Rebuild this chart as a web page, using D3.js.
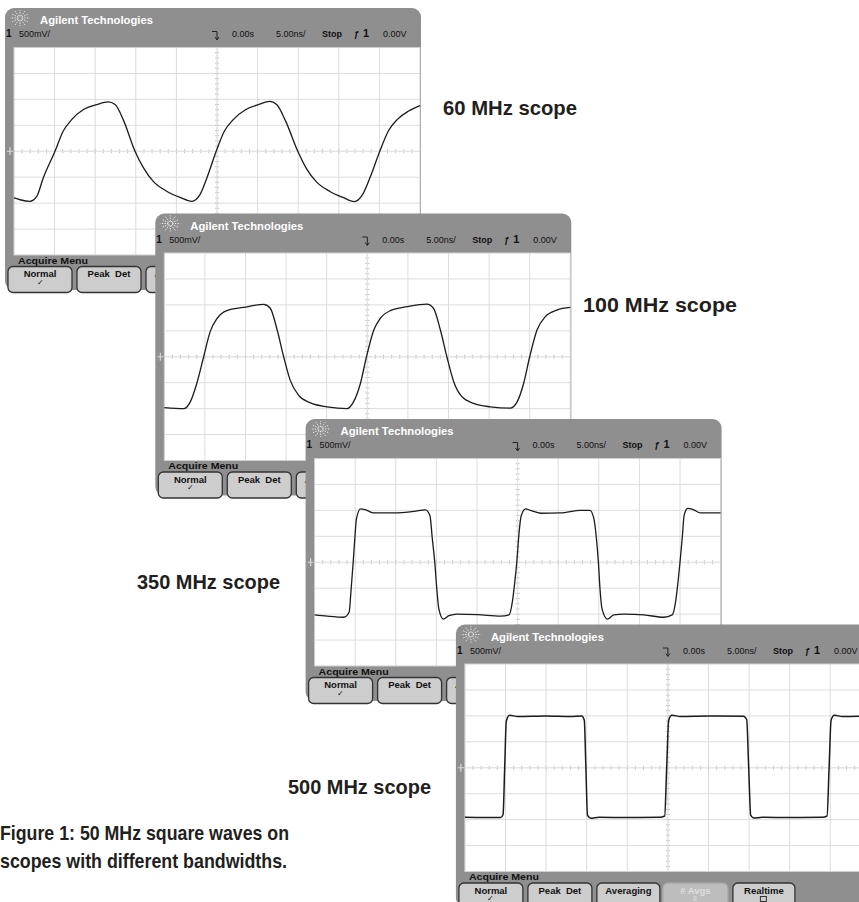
<!DOCTYPE html>
<html>
<head>
<meta charset="utf-8">
<script src="https://cdn.jsdelivr.net/npm/d3@7"></script>
<style>
body{margin:0;background:#fff;}
text{font-family:"Liberation Sans",Arial,sans-serif;}
</style>
</head>
<body>
<div id="chart"></div>
<script>
// scope names, one panel each, back to front
var scopeNames=["60 MHz scope","100 MHz scope","350 MHz scope","500 MHz scope"];
var captionLines=["Figure 1: 50 MHz square waves on","scopes with different bandwidths."];

// status line of every screen
var chanText="500mV/", delayText="0.00s", timeText="5.00ns/", runText="Stop", trigText="0.00V";
var buttonNames=["Normal","Peak  Det","Averaging","# Avgs","Realtime"];

// traces, time in ns (0 = trigger), level in V  (5 ns/div, 500 mV/div)
var t60=[-25,-24.25,-23.05,-22.2,-21.4,-19.95,-18.95,-17.9,-16.45,-14.8,-13.4,-12.55,-11.55,-10.1,-9.05,-7.85,-6.2,-4.55,-3.1,-2.1,-1.25,-0.1,0.9,2,3.5,5.1,6.5,7.35,8.4,9.95,11,12.25,13.9,15.5,16.9,17.9,18.8,20.05,21.1,22.25,23.6,25];
var v60=[-0.9,-0.935,-0.965,-0.87,-0.515,0,0.385,0.61,0.805,0.9,0.95,0.9,0.61,0,-0.32,-0.58,-0.77,-0.89,-0.965,-0.835,-0.515,0,0.385,0.61,0.8,0.9,0.96,0.9,0.6,0,-0.33,-0.59,-0.775,-0.89,-0.97,-0.84,-0.525,0,0.39,0.62,0.775,0.88];

var t100=[-25,-22.6,-21.8,-21,-20.15,-19.35,-18.5,-17.3,-15.25,-12.75,-11.95,-11.1,-10.3,-9.5,-8.45,-7,-4.95,-2.5,-1.7,-0.85,-0.1,0.8,1.6,2.85,4.9,7.35,8.15,9,9.8,10.65,11.65,13.1,15.15,17.6,18.45,19.25,20,20.9,21.9,23.35,25];
var v100=[-0.98,-1.0,-0.87,-0.515,0,0.485,0.74,0.89,0.95,1.01,0.935,0.515,0,-0.45,-0.745,-0.89,-0.965,-1.0,-0.87,-0.515,0,0.515,0.74,0.89,0.965,1.015,0.935,0.515,0,-0.485,-0.77,-0.9,-0.965,-0.99,-0.87,-0.515,0,0.515,0.77,0.9,0.95];

var t350=[-25,-23.45,-21.4,-20.75,-20.5,-20.25,-20.05,-19.85,-19.35,-18.7,-17.7,-15.25,-12.75,-11.35,-10.8,-10.5,-10.2,-9.95,-9.7,-9.15,-8.45,-7.45,-4.95,-2.1,-1.05,-0.65,-0.35,-0.1,0.15,0.45,1.0,1.6,2.85,5.3,7.75,8.9,9.4,9.75,9.95,10.15,10.4,11.05,11.85,13.1,15.55,18,19.05,19.45,19.75,20,20.3,20.5,20.95,21.7,22.5,25];
var v350=[-1.015,-1.04,-1.06,-0.965,-0.515,0,0.45,0.835,1.03,1.01,0.95,0.95,0.98,1.01,0.9,0.45,0,-0.515,-0.9,-1.095,-1.03,-1.0,-1.01,-1.04,-1.015,-0.77,-0.385,0,0.515,0.9,1.03,1.0,0.945,0.95,1.0,1.0,0.835,0.385,0,-0.515,-0.9,-1.095,-1.015,-1.0,-1.015,-1.06,-1.015,-0.77,-0.385,0,0.515,0.9,1.04,1.01,0.95,0.95];

var t500=[-25,-20.6,-20.3,-20.1,-19.9,-19.5,-18.5,-15,-12,-10.6,-10.3,-10.1,-9.9,-9.5,-8.5,-5,-1,-0.4,-0.15,0.1,0.5,1.5,5,9.3,9.7,9.95,10.2,10.6,11.6,15,19,19.6,19.85,20.1,20.5,21.5,25];
var v500=[-0.955,-0.96,-0.9,0,0.9,1.01,0.99,1.0,0.99,1.0,0.92,0,-0.92,-0.975,-0.955,-0.96,-0.955,-0.93,0,0.92,1.01,0.99,1.0,0.995,0.93,0,-0.92,-0.97,-0.955,-0.96,-0.955,-0.93,0,0.92,1.01,0.99,1.0];

var traces=[[t60,v60],[t100,v100],[t350,v350],[t500,v500]];

var width=859,height=902;
var panelW=416,panelH=282,plotL=9,plotR=415,plotT=39.5,plotB=247;
var offX=150.3,offY=205.5,startX=5,startY=8;
var grey="#8f8f8f";

var svg=d3.select("#chart").append("svg")
  .attr("width",width).attr("height",height);
svg.append("rect").attr("width",width).attr("height",height).attr("fill","#fff");

var x=d3.scaleLinear().domain([-25,25]).range([plotL,plotR]);
var y=d3.scaleLinear().domain([-2,2]).range([plotB,plotT]);

function drawScope(i){
  var g=svg.append("g")
    .attr("transform","translate("+(startX+offX*i)+","+(startY+offY*i)+")");

  g.append("rect").attr("width",panelW).attr("height",panelH)
    .attr("rx",9).attr("fill",grey);
  g.append("rect").attr("x",plotL).attr("y",plotT)
    .attr("width",plotR-plotL).attr("height",plotB-plotT).attr("fill","#fff");

  // grid
  g.append("g").selectAll("line").data(d3.range(-20,21,5)).enter().append("line")
    .attr("x1",x).attr("x2",x).attr("y1",plotT).attr("y2",plotB)
    .attr("stroke","#dcdcdc").attr("stroke-width",1);
  g.append("g").selectAll("line").data(d3.range(-1.5,1.51,0.5)).enter().append("line")
    .attr("y1",y).attr("y2",y).attr("x1",plotL).attr("x2",plotR)
    .attr("stroke","#dcdcdc").attr("stroke-width",1);

  // centre axes with minor ticks
  g.append("g").selectAll("line").data(d3.range(-24,25,1)).enter().append("line")
    .attr("x1",x).attr("x2",x).attr("y1",y(0)-2).attr("y2",y(0)+2)
    .attr("stroke","#c4c4c4");
  g.append("g").selectAll("line").data(d3.range(-1.9,1.91,0.1)).enter().append("line")
    .attr("y1",y).attr("y2",y).attr("x1",x(0)-2).attr("x2",x(0)+2)
    .attr("stroke","#c4c4c4");
  g.append("line").attr("x1",plotL).attr("x2",plotR).attr("y1",y(0)).attr("y2",y(0))
    .attr("stroke","#e4e4e4");
  g.append("line").attr("x1",x(0)).attr("x2",x(0)).attr("y1",plotT).attr("y2",plotB)
    .attr("stroke","#e4e4e4");
  g.append("rect").attr("x",plotL).attr("y",plotT)
    .attr("width",plotR-plotL).attr("height",plotB-plotT)
    .attr("fill","none").attr("stroke","#cfcfcf");

  // ground marker
  g.append("path").attr("d","M"+(plotL-7)+","+y(0)+"h6M"+(plotL-4)+","+(y(0)-4)+"v8")
    .attr("stroke","#d8d8d8").attr("stroke-width",1.2);

  // trace
  var data=d3.zip(traces[i][0],traces[i][1]);
  g.append("path").datum(data)
    .attr("fill","none").attr("stroke","#1b1b1b")
    .attr("stroke-width",i==3?1.5:1.3)
    .attr("d",d3.line().x(function(d){return x(d[0]);}).y(function(d){return y(d[1]);})
      .curve(d3.curveMonotoneX));

  // header: logo + title
  var logo=g.append("g").attr("transform","translate(15,10)");
  logo.selectAll("line").data(d3.range(0,360,30)).enter().append("line")
    .attr("x1",function(a){return 2*Math.cos(a*Math.PI/180);})
    .attr("y1",function(a){return 2*Math.sin(a*Math.PI/180);})
    .attr("x2",function(a){return 10*Math.cos(a*Math.PI/180);})
    .attr("y2",function(a){return 8*Math.sin(a*Math.PI/180);})
    .attr("stroke","#fff").attr("stroke-width",0.9).attr("stroke-dasharray","1.2,1.4");
  g.append("text").attr("x",35).attr("y",16).text("Agilent Technologies")
    .attr("textLength",113).attr("lengthAdjust","spacingAndGlyphs")
    .attr("fill","#fff").style("font-weight","bold").style("font-size","11px");

  // status row
  var st=g.append("g").style("font-size","9px").attr("fill","#111");
  st.append("text").attr("x",1).attr("y",29).text("1").style("font-weight","bold").style("font-size","10px");
  st.append("text").attr("x",14).attr("y",29).text(chanText);
  st.append("path").attr("d","M"+(x(0)-5)+",23.5h5v8M"+(x(0)-2)+",29l2,3l2,-3")
    .attr("fill","none").attr("stroke","#222");
  st.append("text").attr("x",227).attr("y",29).text(delayText);
  st.append("text").attr("x",271).attr("y",29).text(timeText);
  st.append("text").attr("x",317).attr("y",29).text(runText).style("font-weight","bold");
  st.append("text").attr("x",349).attr("y",29).text("\u0192").style("font-weight","bold");
  st.append("text").attr("x",358).attr("y",29).text("1").style("font-weight","bold").style("font-size","11px");
  st.append("text").attr("x",378).attr("y",29).text(trigText);

  // softkey menu
  g.append("text").attr("x",13).attr("y",255.5).text("Acquire  Menu")
    .attr("textLength",70).attr("lengthAdjust","spacingAndGlyphs")
    .style("font-size","9.5px").style("font-weight","bold").attr("fill","#111");
  var bx=[3,72,141,207,277], bw=[64,64,63,65,62];
  var keys=g.append("g").selectAll("g").data(buttonNames).enter().append("g")
    .attr("transform",function(d,k){return "translate("+bx[k]+",258.5)";});
  keys.append("rect").attr("width",function(d,k){return bw[k];}).attr("height",26)
    .attr("rx",5).attr("fill",function(d,k){return k==3?"#bdbdbd":"#cdcdcd";})
    .attr("stroke",function(d,k){return k==3?"#a8a8a8":"#333";}).attr("stroke-width",1.3);
  keys.append("text").attr("x",function(d,k){return bw[k]/2;}).attr("y",10.5)
    .attr("text-anchor","middle").text(function(d){return d;})
    .style("font-size","9.5px").style("font-weight","bold")
    .attr("fill",function(d,k){return k==3?"#dedede":"#111";}).style("white-space","pre");
  keys.filter(function(d,k){return k==0;}).append("text").attr("x",32).attr("y",18)
    .attr("text-anchor","middle").text("\u2713").style("font-size","8px").attr("fill","#111");
  keys.filter(function(d,k){return k==3;}).append("text").attr("x",32).attr("y",18)
    .attr("text-anchor","middle").text("8").style("font-size","7px").attr("fill","#dedede");
  keys.filter(function(d,k){return k==4;}).append("rect").attr("x",27.5).attr("y",13.5)
    .attr("width",6).attr("height",5).attr("fill","none").attr("stroke","#333");
}

for(var i=0;i<scopeNames.length;i++) drawScope(i);

// panel labels
var labelX=[443,583,137,288], labelY=[115,312,589,794], labelW=[134,154,143,143];
svg.append("g").selectAll("text").data(scopeNames).enter().append("text")
  .attr("x",function(d,i){return labelX[i];}).attr("y",function(d,i){return labelY[i];})
  .text(function(d){return d;})
  .attr("textLength",function(d,i){return labelW[i];}).attr("lengthAdjust","spacingAndGlyphs")
  .style("font-weight","bold").style("font-size","21px").attr("fill","#231f20");

var captionW=[289,287];
svg.append("g").selectAll("text").data(captionLines).enter().append("text")
  .attr("x",0).attr("y",function(d,i){return 840+i*28;})
  .text(function(d){return d;})
  .attr("textLength",function(d,i){return captionW[i];}).attr("lengthAdjust","spacingAndGlyphs")
  .style("font-weight","bold").style("font-size","20.5px").attr("fill","#231f20");
</script>
</body>
</html>
